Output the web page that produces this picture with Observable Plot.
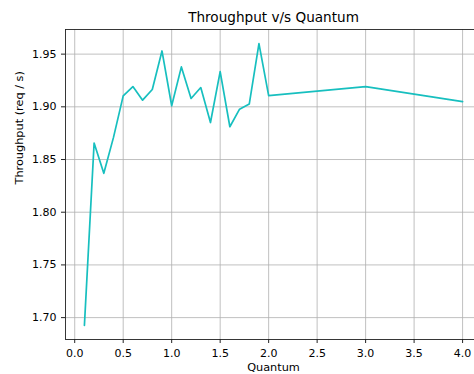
<!DOCTYPE html>
<html>
<head>
<meta charset="utf-8">
<script src="https://cdn.jsdelivr.net/npm/d3@7"></script>
<script src="https://cdn.jsdelivr.net/npm/@observablehq/plot@0.6"></script>
<style>
  html, body { margin: 0; padding: 0; background: #fff; }
  #chart svg { display: block; }
</style>
</head>
<body>
<div id="chart"></div>
<script>
const quantum = [0.1, 0.2, 0.3, 0.4, 0.5, 0.6, 0.7, 0.8, 0.9, 1.0,
                 1.1, 1.2, 1.3, 1.4, 1.5, 1.6, 1.7, 1.8, 1.9, 2.0, 3.0, 4.0];
const throughput = [1.6926, 1.8656, 1.8369, 1.8710, 1.9104, 1.9192, 1.9063, 1.9164, 1.9530, 1.9010,
                    1.9379, 1.9079, 1.9183, 1.8851, 1.9334, 1.8811, 1.8978, 1.9026, 1.9600, 1.9107,
                    1.9192, 1.9050];
const xTicks = [0.0, 0.5, 1.0, 1.5, 2.0, 2.5, 3.0, 3.5, 4.0];
const yTicks = [1.70, 1.75, 1.80, 1.85, 1.90, 1.95];
const titleText = "Throughput v/s Quantum";
const xLabel = "Quantum";
const yLabel = "Throughput (req / s)";

const data = quantum.map((q, i) => ({q, t: throughput[i]}));

// matplotlib-style 5% margins
const [x0, x1] = d3.extent(quantum);
const [y0, y1] = d3.extent(throughput);
const mx = (x1 - x0) * 0.05, my = (y1 - y0) * 0.05;

const font = "DejaVu Sans, sans-serif";

const chart = Plot.plot({
  width: 474,
  height: 374,
  marginLeft: 65,
  marginRight: -7,
  marginTop: 29,
  marginBottom: 35,
  style: {fontFamily: font, color: "#000", background: "#fff", overflow: "hidden"},
  x: {domain: [x0 - mx, x1 + mx]},
  y: {domain: [y0 - my, y1 + my]},
  marks: [
    Plot.gridX(xTicks, {stroke: "#b0b0b0", strokeOpacity: 1, strokeWidth: 0.8}),
    Plot.gridY(yTicks, {stroke: "#b0b0b0", strokeOpacity: 1, strokeWidth: 0.8}),
    Plot.line(data, {x: "q", y: "t", stroke: "#17bfbf", strokeWidth: 1.7}),
    Plot.frame({stroke: "#222", strokeWidth: 0.9}),
    Plot.axisX(xTicks, {tickFormat: d3.format(".1f"), tickSize: 4, tickPadding: 6,
                        label: null, fontSize: 11, stroke: "#222"}),
    Plot.axisY(yTicks, {tickFormat: d3.format(".2f"), tickSize: 4, tickPadding: 5,
                        label: null, fontSize: 11, stroke: "#222"}),
    Plot.text([titleText], {frameAnchor: "top", lineAnchor: "bottom", dy: -7.5,
                            fontSize: 13.6, fill: "#000"}),
    Plot.text([xLabel], {frameAnchor: "bottom", lineAnchor: "bottom", dy: 31.5,
                         fontSize: 11.3, fill: "#000"}),
    Plot.text([yLabel], {frameAnchor: "left", dx: -46, rotate: -90, lineAnchor: "middle",
                         fontSize: 11.3, fill: "#000"})
  ]
});
document.getElementById("chart").appendChild(chart);
</script>
</body>
</html>
